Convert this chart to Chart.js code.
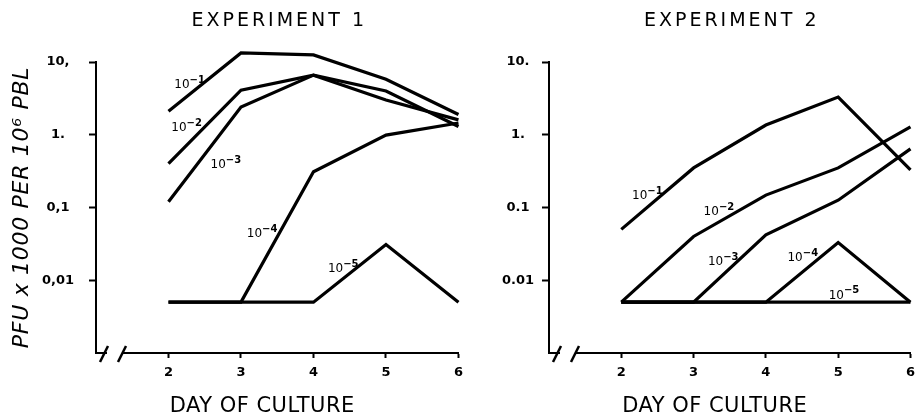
<!DOCTYPE html>
<html>
<head>
<meta charset="utf-8">
<script src="https://cdn.jsdelivr.net/npm/chart.js@4"></script>
<style>
  html, body { margin: 0; padding: 0; background: #fff; }
  #wrap { position: relative; width: 922px; height: 419px; overflow: hidden; }
  #c1 { position: absolute; left: 0; top: 0; }
  #c2 { position: absolute; left: 460px; top: 0; }
</style>
</head>
<body>
<div id="wrap">
  <canvas id="c1" width="470" height="419"></canvas>
  <canvas id="c2" width="462" height="419"></canvas>
</div>
<script>
// days of culture (x) and dilution curves, PFU x 1000 per 10^6 PBL (y, log)
const days = [2, 3, 4, 5, 6];
const powers = ['1', '2', '3', '4', '5'];

const exp1_d1 = [2.1, 13.3, 12.5, 5.8, 1.9];
const exp1_d2 = [0.40, 4.1, 6.6, 4.0, 1.3];
const exp1_d3 = [0.12, 2.4, 6.6, 3.0, 1.6];
const exp1_d4 = [0.005, 0.005, 0.31, 0.99, 1.45];
const exp1_d5 = [0.005, 0.005, 0.005, 0.031, 0.005];

const exp2_d1 = [0.050, 0.35, 1.36, 3.3, 0.33];
const exp2_d2 = [0.005, 0.040, 0.148, 0.35, 1.28];
const exp2_d3 = [0.005, 0.005, 0.042, 0.126, 0.64];
const exp2_d4 = [0.005, 0.005, 0.005, 0.033, 0.005];
const exp2_d5 = [0.005, 0.005, 0.005, 0.005, 0.005];

const yTickValues = [0.01, 0.1, 1, 10];
const yTicks1 = ['0,01', '0,1', '1.', '10,'];
const yTicks2 = ['0.01', '0.1', '1.', '10.'];

// where the "10^-n" tags sit, in data units (day, value)
const tags1 = [[2.29, 5.1], [2.25, 1.32], [2.79, 0.41], [3.29, 0.046], [4.41, 0.0151]];
const tags2 = [[2.36, 0.153], [3.35, 0.092], [3.41, 0.0189], [4.51, 0.0214], [5.08, 0.0066]];

const FONT = 'DejaVu Sans';
const X_TITLE = 'DAY OF CULTURE';
const Y_TITLE = 'PFU x 1000 PER 10\u2076 PBL';

//Decorations: titles, axis break, curve tags
const decorations = {
  id: 'decorations',
  afterDraw(chart, args, opts) {
    const ctx = chart.ctx;
    const area = chart.chartArea;
    const xs = chart.scales.x, ys = chart.scales.y;
    const mid = (area.left + area.right) / 2;
    ctx.save();
    ctx.fillStyle = '#000';
    ctx.strokeStyle = '#000';
    ctx.textAlign = 'center';
    ctx.textBaseline = 'middle';

    // panel title
    ctx.font = '19px "' + FONT + '"';
    ctx.letterSpacing = '3px';
    ctx.fillText(opts.title, mid + 2, 21);

    // x axis title
    ctx.font = '21px "' + FONT + '"';
    ctx.letterSpacing = '0.5px';
    ctx.fillText(X_TITLE, mid - 15, 407);

    // y axis title
    if (opts.yTitle) {
      ctx.save();
      ctx.translate(22, (area.top + area.bottom) / 2);
      ctx.rotate(-Math.PI / 2);
      ctx.font = 'italic 22px "' + FONT + '"';
      ctx.letterSpacing = '0.7px';
      ctx.fillText(Y_TITLE, 0, 0);
      ctx.restore();
    }
    ctx.letterSpacing = '0px';

    // axis break
    const by = area.bottom;
    ctx.clearRect(area.left + 11, by - 3, 15, 6);
    ctx.lineWidth = 2.5;
    [8, 26].forEach(dx => {
      ctx.beginPath();
      ctx.moveTo(area.left + dx - 4, by + 9);
      ctx.lineTo(area.left + dx + 4, by - 7);
      ctx.stroke();
    });

    // curve tags
    opts.tags.forEach((t, i) => {
      const px = xs.getPixelForValue(t[0]);
      const py = ys.getPixelForValue(t[1]);
      ctx.font = '12px "' + FONT + '"';
      ctx.textAlign = 'right';
      ctx.fillText('10', px, py + 2);
      ctx.font = 'bold 10px "' + FONT + '"';
      ctx.textAlign = 'left';
      ctx.fillText('\u2212' + powers[i], px, py - 3);
    });
    ctx.restore();
  }
};

const makeDatasets = (series) => series.map(s => ({
  data: days.map((d, i) => ({ x: d, y: s[i] })),
  borderColor: '#000',
  borderWidth: 3.2,
  pointRadius: 0,
  tension: 0,
  fill: false,
  clip: false
}));

const makeConfig = (series, yTicks, yWidth, yPad, padRight, showYTitle, title, tags) => ({
  type: 'line',
  data: { datasets: makeDatasets(series) },
  options: {
    responsive: false,
    animation: false,
    layout: { padding: { top: 62, right: padRight, left: 0, bottom: 0 } },
    plugins: {
      legend: { display: false },
      tooltip: { enabled: false },
      decorations: { title: title, tags: tags, yTitle: showYTitle }
    },
    scales: {
      x: {
        type: 'linear',
        min: 1,
        max: 6,
        afterBuildTicks: s => { s.ticks = days.map(v => ({ value: v })); },
        afterFit: s => { s.height = 66; },
        ticks: {
          color: '#000',
          padding: 7,
          maxRotation: 0,
          font: { family: FONT, size: 13, weight: 'bold' },
          callback: v => String(v)
        },
        grid: { drawOnChartArea: false, color: '#000', tickLength: 5, tickWidth: 2 },
        border: { color: '#000', width: 2 }
      },
      y: {
        type: 'logarithmic',
        min: 0.001,
        max: 10,
        afterBuildTicks: s => { s.ticks = yTickValues.map(v => ({ value: v })); },
        afterFit: s => { s.width = yWidth; },
        ticks: {
          color: '#000',
          padding: yPad,
          crossAlign: 'center',
          font: { family: FONT, size: 13, weight: 'bold' },
          callback: (v, i) => yTicks[i]
        },
        grid: { drawOnChartArea: false, color: '#000', tickLength: 7, tickWidth: 2 },
        border: { color: '#000', width: 2 }
      }
    }
  },
  plugins: [decorations]
});

const chart1 = new Chart(
  document.getElementById('c1'),
  makeConfig([exp1_d1, exp1_d2, exp1_d3, exp1_d4, exp1_d5], yTicks1, 96, 15, 10, true, 'EXPERIMENT 1', tags1)
);

const chart2 = new Chart(
  document.getElementById('c2'),
  makeConfig([exp2_d1, exp2_d2, exp2_d3, exp2_d4, exp2_d5], yTicks2, 89, 8, 4, false, 'EXPERIMENT 2', tags2)
);
</script>
</body>
</html>
